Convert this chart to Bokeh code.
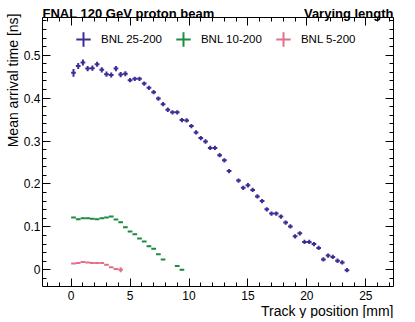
import math
from bokeh.plotting import figure
from bokeh.models import (Range1d, LinearAxis, SingleIntervalTicker, CustomJSTickFormatter,
                          Legend, LegendItem, ColumnDataSource, Label)
from bokeh.embed import file_html
from bokeh.resources import INLINE

# ---------------- data ----------------
title_left = "FNAL 120 GeV proton beam"
title_right = "Varying length"
x_label = "Track y position [mm]"
y_label = "Mean arrival time [ns]"

blue_x = [0.2, 0.6, 1.0, 1.4, 1.8, 2.2, 2.6, 3.0, 3.4, 3.8, 4.2, 4.6, 5.0, 5.4, 5.8, 6.2,
          6.6, 7.0, 7.4, 7.8, 8.2, 8.6, 9.0, 9.4, 9.8, 10.2, 10.6, 11.0, 11.4, 11.8, 12.2,
          12.6, 13.0, 13.4, 14.2, 14.6, 15.0, 15.4, 15.8, 16.2, 16.6, 17.0, 17.4, 17.8,
          18.2, 18.6, 19.0, 19.4, 19.8, 20.2, 20.6, 21.0, 21.4, 21.8, 22.2, 22.6, 23.0, 23.4]
blue_y = [0.459, 0.475, 0.483, 0.469, 0.470, 0.479, 0.466, 0.456, 0.454, 0.469, 0.455,
          0.457, 0.442, 0.445, 0.445, 0.434, 0.424, 0.414, 0.399, 0.386, 0.373, 0.367,
          0.367, 0.349, 0.348, 0.335, 0.320, 0.307, 0.299, 0.284, 0.284, 0.267, 0.255,
          0.230, 0.208, 0.191, 0.197, 0.186, 0.171, 0.160, 0.141, 0.131, 0.131, 0.124,
          0.110, 0.101, 0.078, 0.085, 0.065, 0.065, 0.060, 0.051, 0.024, 0.033, 0.030,
          0.021, 0.017, -0.001]
blue_e = [0.009, 0.007, 0.007, 0.006, 0.006, 0.006, 0.006, 0.006, 0.006, 0.006, 0.006,
          0.006, 0.005, 0.005, 0.005, 0.005, 0.005, 0.005, 0.005, 0.005, 0.005, 0.005,
          0.005, 0.005, 0.005, 0.005, 0.005, 0.005, 0.005, 0.005, 0.005, 0.005, 0.005,
          0.005, 0.005, 0.005, 0.005, 0.005, 0.005, 0.005, 0.005, 0.005, 0.005, 0.005,
          0.005, 0.005, 0.005, 0.005, 0.005, 0.005, 0.005, 0.005, 0.005, 0.005, 0.005,
          0.005, 0.005, 0.005]

green_x = [0.2, 0.6, 1.0, 1.4, 1.8, 2.2, 2.6, 3.0, 3.4, 3.8, 4.2, 4.6, 5.0, 5.4, 5.8, 6.2,
           6.6, 7.0, 7.4, 7.8, 9.0, 9.4]
green_y = [0.122, 0.118, 0.120, 0.120, 0.119, 0.118, 0.120, 0.122, 0.124, 0.117, 0.111,
           0.099, 0.089, 0.083, 0.073, 0.066, 0.055, 0.049, 0.036, 0.024, 0.009, 0.000]
green_e = [0.001] * 22

red_x = [0.2, 0.6, 1.0, 1.4, 1.8, 2.2, 2.6, 3.0, 3.4, 3.8, 4.2]
red_y = [0.0145, 0.016, 0.018, 0.017, 0.0155, 0.016, 0.0155, 0.0115, 0.006, 0.0015, 0.0]
red_e = [0.001, 0.001, 0.001, 0.001, 0.001, 0.001, 0.001, 0.001, 0.001, 0.001, 0.006]

x_half_width = 0.2

series = [
    ("BNL 25-200", blue_x, blue_y, blue_e, "#3b2f94"),
    ("BNL 10-200", green_x, green_y, green_e, "#1f8a43"),
    ("BNL 5-200", red_x, red_y, red_e, "#e2708a"),
]

FONT = "Liberation Sans"
X0, X1 = -2.43, 27.35       # axis ranges of the framed box
Y0, Y1 = -0.039, 0.588

# ---------------- layout (pixels) ----------------
W, H = 412, 318
BL, BR, BT, BB = 42, 393, 17, 286      # framed box edges in canvas pixels
sx = (BR - BL) / (X1 - X0)
sy = (BB - BT) / (Y1 - Y0)
x_range = Range1d(X0 - BL / sx, X1 + (W - BR) / sx)
y_range = Range1d(Y0 - (H - BB) / sy, Y1 + BT / sy)

p = figure(width=W, height=H, output_backend="svg", toolbar_location=None, title=None,
           x_range=x_range, y_range=y_range, min_border=0,
           x_axis_location=None, y_axis_location=None)
p.xgrid.visible = False
p.ygrid.visible = False
p.outline_line_color = None
p.background_fill_color = "white"
p.border_fill_color = "white"


def make_axis(fixed, bounds, interval, show_labels):
    ax = LinearAxis(fixed_location=fixed, bounds=bounds,
                    ticker=SingleIntervalTicker(interval=interval, num_minor_ticks=5))
    ax.major_tick_in = 8
    ax.major_tick_out = 0
    ax.minor_tick_in = 4
    ax.minor_tick_out = 0
    ax.axis_line_color = "black"
    ax.axis_line_width = 1
    ax.major_tick_line_color = "black"
    ax.minor_tick_line_color = "black"
    ax.major_label_text_font = FONT
    ax.major_label_text_font_size = "12px"
    ax.major_label_text_color = "black"
    if not show_labels:
        ax.formatter = CustomJSTickFormatter(code="return '';")
        ax.major_label_text_font_size = "0px"
    return ax


bottom = make_axis(Y0, (X0, X1), 5, True)
bottom.major_label_standoff = 4
top = make_axis(Y1, (X0, X1), 5, False)
left = make_axis(X0, (Y0, Y1), 0.1, True)
left.major_label_standoff = 2
left.formatter = CustomJSTickFormatter(
    code="return Math.abs(tick) < 1e-9 ? '0' : tick.toFixed(1);")
right = make_axis(X1, (Y0, Y1), 0.1, False)
p.add_layout(bottom, "below")
p.add_layout(top, "above")
p.add_layout(left, "left")
p.add_layout(right, "right")

# texts (screen units measured from the canvas bottom-left)
def add_text(text, x, y, size, bold=False, align="left", angle=0.0):
    p.add_layout(Label(x=x, y=y, x_units="screen", y_units="screen", text=text,
                       text_font=FONT, text_font_size=size,
                       text_font_style="bold" if bold else "normal",
                       text_align=align, text_baseline="alphabetic", angle=angle,
                       text_color="black"))

add_text(title_left, BL, H - 13, "13px", bold=True, align="left")
add_text(title_right, BR, H - 13, "13px", bold=True, align="right")
add_text(x_label, BR, H - 310, "14px", align="right")
add_text(y_label, 12, H - 13, "14px", align="right", angle=math.pi / 2)

legend_items = []
for name, xs, ys, es, col in series:
    src = ColumnDataSource(dict(
        x=xs, y=ys,
        xl=[v - x_half_width for v in xs], xh=[v + x_half_width for v in xs],
        yl=[v - e for v, e in zip(ys, es)], yh=[v + e for v, e in zip(ys, es)]))
    p.segment(x0="xl", y0="y", x1="xh", y1="y", source=src, line_color=col, line_width=2)
    p.segment(x0="x", y0="yl", x1="x", y1="yh", source=src, line_color=col, line_width=2)
    lr = p.scatter(x="x", y="y", source=src, marker="cross", size=0,
                   line_color=col, line_width=2)
    legend_items.append(LegendItem(label=name, renderers=[lr]))

legend = Legend(items=legend_items, orientation="horizontal",
                location=(83 - 18, H - 21 - 36),
                glyph_width=36, glyph_height=36, label_standoff=0, spacing=3,
                padding=0, margin=0, border_line_color=None, background_fill_alpha=0,
                label_text_font=FONT, label_text_font_size="11.5px",
                label_text_color="black")
p.add_layout(legend)

open("out.html", "w").write(file_html(p, INLINE))
